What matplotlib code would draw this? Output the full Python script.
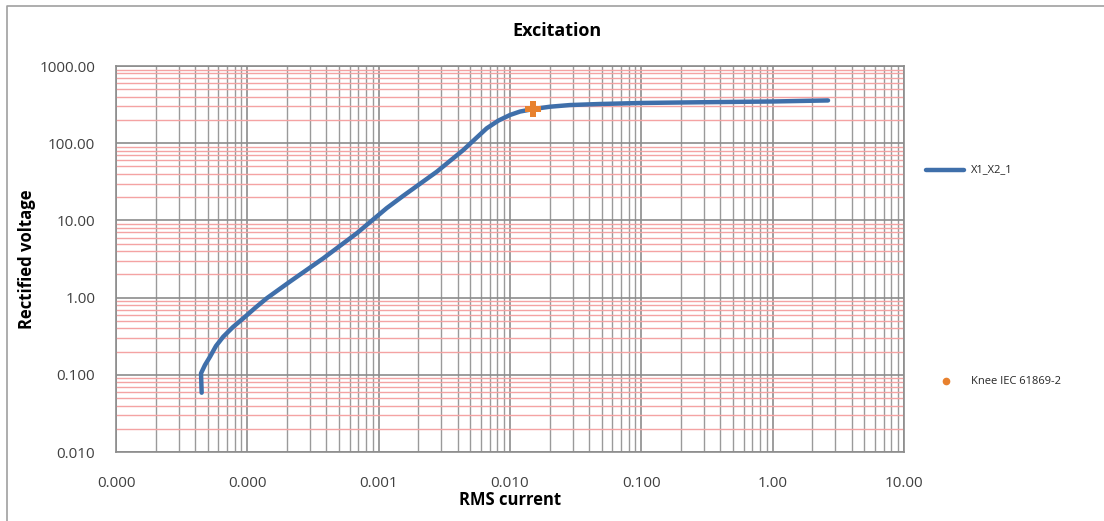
import numpy as np
import matplotlib
matplotlib.use("Agg")
import matplotlib.pyplot as plt
from matplotlib.lines import Line2D
from matplotlib.ticker import FixedLocator, LogLocator, FixedFormatter, NullFormatter

# excitation curve
rms_current = [4.49e-5, 4.44e-5, 4.76e-5, 5.20e-5, 5.77e-5, 6.56e-5, 7.78e-5,
               9.32e-5, 1.144e-4, 1.405e-4, 2.11e-4, 3.79e-4, 6.81e-4, 9.89e-4,
               1.15e-3, 1.532e-3, 2.77e-3, 4.41e-3, 5.42e-3, 6.65e-3, 8.15e-3,
               1.0e-2, 1.192e-2, 1.505e-2, 2.02e-2, 2.86e-2, 4.85e-2, 0.1,
               0.28, 1.0, 2.64]
rect_voltage = [0.0586, 0.1045, 0.134, 0.1716, 0.236, 0.312, 0.416,
                0.539, 0.733, 0.98, 1.61, 3.23, 6.81, 11.6,
                14.4, 20.7, 42.7, 81.6, 113, 156, 196,
                232, 257, 277, 297, 312, 322, 332,
                339, 347, 358]

knee_current = [0.01505]
knee_voltage = [277]

x_ticks = [1e-5, 1e-4, 1e-3, 1e-2, 1e-1, 1, 10]
x_labels = ["0.000", "0.000", "0.001", "0.010", "0.100", "1.00", "10.00"]
y_ticks = [0.01, 0.1, 1, 10, 100, 1000]
y_labels = ["0.010", "0.100", "1.00", "10.00", "100.00", "1000.00"]

line_blue = "#3F6FAA"
knee_orange = "#E8812E"


def main():
    plt.rcParams['font.family'] = ['Open Sans', 'DejaVu Sans']
    fig = plt.figure(figsize=(11.04, 5.21), dpi=100)
    ax = fig.add_axes([116 / 1104, 1 - 452 / 521, (904 - 116) / 1104, (452 - 66) / 521])

    ax.set_xscale("log")
    ax.set_yscale("log")
    ax.set_xlim(1e-5, 10)
    ax.set_ylim(0.01, 1000)

    ax.xaxis.set_major_locator(FixedLocator(x_ticks))
    ax.xaxis.set_major_formatter(FixedFormatter(x_labels))
    ax.yaxis.set_major_locator(FixedLocator(y_ticks))
    ax.yaxis.set_major_formatter(FixedFormatter(y_labels))
    ax.xaxis.set_minor_locator(LogLocator(base=10, subs=np.arange(2, 10)))
    ax.yaxis.set_minor_locator(LogLocator(base=10, subs=np.arange(2, 10)))
    ax.xaxis.set_minor_formatter(NullFormatter())
    ax.yaxis.set_minor_formatter(NullFormatter())

    ax.grid(which="minor", axis="y", color="#F4A3A3", linewidth=1.0)
    ax.grid(which="minor", axis="x", color="#9A9A9A", linewidth=1.0)
    ax.grid(which="major", axis="both", color="#8C8C8C", linewidth=1.2)
    ax.set_axisbelow(True)

    ax.tick_params(which="both", length=0)
    ax.tick_params(axis="y", pad=15, labelsize=11, labelcolor="#404040")
    ax.tick_params(axis="x", pad=17, labelsize=11, labelcolor="#404040")
    for s in ax.spines.values():
        s.set_color("#8C8C8C")
        s.set_linewidth(1.2)

    ax.plot(rms_current, rect_voltage, color=line_blue, linewidth=3.2,
            solid_capstyle="round", solid_joinstyle="round", zorder=3)
    ax.plot(knee_current, knee_voltage, linestyle="none", marker="P",
            markersize=11, color=knee_orange, markeredgewidth=0, zorder=4)

    fig.text(557 / 1104, 1 - 31 / 521, "Excitation", ha="center", va="center",
             fontsize=13, fontweight="bold")
    fig.text(27 / 1104, 1 - 259 / 521, "Rectified voltage", ha="center", va="center",
             rotation=90, fontsize=12, fontweight="bold")
    fig.text(510 / 1104, 1 - 500 / 521, "RMS current", ha="center", va="center",
             fontsize=12, fontweight="bold")

    # legend drawn by hand, entries sit far apart like in the original
    fig.add_artist(Line2D([926 / 1104, 964 / 1104], [1 - 170 / 521, 1 - 170 / 521],
                          transform=fig.transFigure, color=line_blue, linewidth=3.2,
                          solid_capstyle="round"))
    fig.text(971 / 1104, 1 - 170 / 521, "X1_X2_1", ha="left", va="center",
             fontsize=8, color="#262626")
    fig.add_artist(Line2D([946 / 1104], [1 - 381 / 521], transform=fig.transFigure,
                          marker="o", markersize=4.5, color=knee_orange, linestyle="none"))
    fig.text(971 / 1104, 1 - 381 / 521, "Knee IEC 61869-2", ha="left", va="center",
             fontsize=8, color="#262626")

    # chart area border (top and left edges visible)
    fig.add_artist(Line2D([7 / 1104, 7 / 1104, 1.0], [0.0, 1 - 6 / 521, 1 - 6 / 521],
                          transform=fig.transFigure, color="#A0A0A0", linewidth=1.2))

    fig.savefig("out.png", dpi=100)


if __name__ == "__main__":
    main()
